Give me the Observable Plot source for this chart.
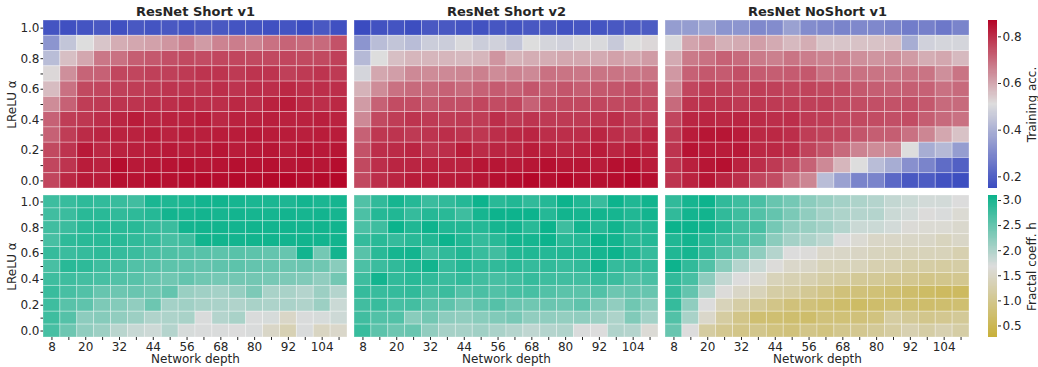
<!DOCTYPE html>
<html>
<head>
<meta charset="utf-8">
<script src="https://cdn.jsdelivr.net/npm/d3@7"></script>
<script src="https://cdn.jsdelivr.net/npm/@observablehq/plot@0.6"></script>
<style>
  body { margin: 0; background: #fff; }
  #fig { position: relative; width: 1038px; height: 367px; font-family: "DejaVu Sans", sans-serif; color: #262626; }
  #fig > svg { position: absolute; overflow: visible; }
</style>
</head>
<body>
<div id="fig"></div>
<script>
// Grid axes: network depth (columns) and LReLU slope α (rows, listed top to bottom)
const depths = [8, 14, 20, 26, 32, 38, 44, 50, 56, 62, 68, 74, 80, 86, 92, 98, 104, 110];
const alphas = [1.0, 0.9, 0.8, 0.7, 0.6, 0.5, 0.4, 0.3, 0.2, 0.1, 0.0];
const panelTitles = ["ResNet Short v1", "ResNet Short v2", "ResNet NoShort v1"];
const accTicks = [0.2, 0.4, 0.6, 0.8];
const fractalTicks = [0.5, 1.0, 1.5, 2.0, 2.5, 3.0];

// Training accuracy, one row per α (1.0 first)
const accShortV1 = [
  [0.17,0.16,0.17,0.18,0.16,0.18,0.17,0.18,0.17,0.18,0.18,0.17,0.17,0.16,0.17,0.15,0.18,0.16],
  [0.33,0.45,0.51,0.55,0.59,0.60,0.61,0.63,0.66,0.62,0.66,0.67,0.66,0.69,0.71,0.70,0.70,0.74],
  [0.43,0.56,0.60,0.68,0.69,0.72,0.73,0.745,0.755,0.75,0.76,0.76,0.755,0.755,0.76,0.755,0.755,0.77],
  [0.52,0.64,0.71,0.715,0.76,0.76,0.77,0.77,0.78,0.79,0.79,0.78,0.79,0.79,0.77,0.78,0.79,0.78],
  [0.565,0.69,0.755,0.76,0.77,0.775,0.78,0.79,0.79,0.79,0.80,0.79,0.80,0.80,0.81,0.80,0.80,0.80],
  [0.645,0.715,0.775,0.78,0.79,0.79,0.80,0.80,0.81,0.80,0.80,0.81,0.80,0.82,0.83,0.81,0.80,0.81],
  [0.715,0.775,0.785,0.80,0.815,0.83,0.815,0.82,0.82,0.83,0.81,0.82,0.82,0.825,0.82,0.82,0.825,0.82],
  [0.715,0.775,0.805,0.815,0.82,0.82,0.83,0.82,0.83,0.825,0.83,0.83,0.835,0.83,0.83,0.825,0.83,0.83],
  [0.755,0.79,0.835,0.81,0.82,0.825,0.83,0.835,0.83,0.835,0.84,0.83,0.835,0.84,0.83,0.845,0.835,0.84],
  [0.76,0.79,0.83,0.82,0.855,0.835,0.84,0.845,0.85,0.84,0.845,0.85,0.845,0.85,0.84,0.845,0.84,0.855],
  [0.76,0.81,0.835,0.83,0.85,0.845,0.855,0.85,0.855,0.86,0.855,0.86,0.855,0.86,0.865,0.855,0.86,0.865]
];
const accShortV2 = [
  [0.15,0.165,0.17,0.155,0.18,0.18,0.17,0.165,0.175,0.17,0.18,0.18,0.165,0.175,0.17,0.18,0.185,0.19],
  [0.33,0.43,0.45,0.43,0.47,0.47,0.50,0.47,0.48,0.45,0.51,0.49,0.48,0.50,0.50,0.46,0.51,0.52],
  [0.42,0.51,0.56,0.575,0.575,0.575,0.57,0.575,0.63,0.58,0.59,0.59,0.60,0.60,0.595,0.61,0.60,0.62],
  [0.49,0.60,0.615,0.65,0.645,0.65,0.655,0.665,0.645,0.66,0.65,0.69,0.685,0.68,0.685,0.685,0.68,0.685],
  [0.58,0.645,0.69,0.70,0.70,0.715,0.70,0.715,0.725,0.715,0.735,0.72,0.735,0.72,0.73,0.735,0.745,0.735],
  [0.62,0.715,0.75,0.75,0.73,0.745,0.745,0.76,0.75,0.76,0.715,0.75,0.755,0.755,0.76,0.755,0.76,0.76],
  [0.65,0.755,0.775,0.79,0.78,0.775,0.78,0.775,0.80,0.78,0.79,0.78,0.78,0.78,0.785,0.80,0.78,0.78],
  [0.715,0.785,0.79,0.78,0.79,0.80,0.79,0.785,0.80,0.81,0.815,0.80,0.80,0.80,0.815,0.80,0.79,0.815],
  [0.74,0.80,0.805,0.815,0.79,0.80,0.83,0.805,0.815,0.815,0.83,0.82,0.815,0.82,0.83,0.815,0.83,0.82],
  [0.755,0.80,0.815,0.815,0.82,0.82,0.82,0.84,0.84,0.835,0.84,0.85,0.84,0.84,0.83,0.85,0.85,0.83],
  [0.755,0.80,0.815,0.83,0.83,0.83,0.835,0.84,0.85,0.855,0.865,0.85,0.865,0.85,0.85,0.855,0.865,0.85]
];
const accNoShortV1 = [
  [0.35,0.35,0.37,0.33,0.33,0.30,0.31,0.36,0.31,0.30,0.29,0.30,0.30,0.29,0.27,0.28,0.26,0.29],
  [0.50,0.605,0.625,0.585,0.595,0.615,0.595,0.57,0.59,0.55,0.55,0.555,0.555,0.56,0.39,0.48,0.49,0.49],
  [0.595,0.675,0.69,0.715,0.70,0.675,0.665,0.685,0.67,0.66,0.665,0.64,0.63,0.64,0.62,0.59,0.60,0.57],
  [0.625,0.715,0.73,0.725,0.745,0.725,0.72,0.725,0.73,0.69,0.695,0.69,0.685,0.68,0.69,0.685,0.64,0.685],
  [0.655,0.76,0.775,0.77,0.765,0.775,0.77,0.76,0.765,0.755,0.75,0.73,0.72,0.715,0.72,0.715,0.69,0.70],
  [0.70,0.79,0.795,0.79,0.78,0.785,0.78,0.775,0.77,0.77,0.755,0.75,0.745,0.74,0.745,0.73,0.70,0.70],
  [0.76,0.815,0.815,0.81,0.815,0.805,0.80,0.80,0.78,0.775,0.76,0.755,0.75,0.745,0.75,0.72,0.70,0.69],
  [0.78,0.83,0.84,0.84,0.83,0.81,0.81,0.80,0.775,0.765,0.76,0.735,0.72,0.72,0.69,0.655,0.60,0.555],
  [0.79,0.845,0.835,0.83,0.835,0.81,0.81,0.80,0.765,0.74,0.70,0.66,0.645,0.65,0.51,0.39,0.42,0.35],
  [0.79,0.825,0.84,0.85,0.82,0.80,0.78,0.75,0.715,0.65,0.575,0.51,0.43,0.39,0.32,0.29,0.23,0.20],
  [0.79,0.82,0.84,0.815,0.80,0.76,0.75,0.69,0.655,0.43,0.36,0.29,0.29,0.22,0.18,0.19,0.165,0.155]
];

// Fractal coefficient h, one row per α (1.0 first)
const fracShortV1 = [
  [2.76,2.80,2.87,2.84,2.80,2.74,3.00,2.97,3.00,3.05,3.06,3.03,3.00,3.00,2.98,3.05,3.00,3.03],
  [2.74,2.78,2.90,2.90,2.85,2.87,2.93,3.05,3.03,3.05,3.03,3.05,3.03,3.03,3.05,3.03,3.05,3.03],
  [2.74,2.78,2.90,2.93,2.90,2.90,2.82,2.78,3.05,3.06,3.06,3.05,3.06,3.05,3.06,3.05,3.06,3.06],
  [2.70,2.87,2.90,2.90,2.90,2.85,2.82,2.70,2.76,3.06,3.06,3.05,3.06,3.06,3.05,3.06,3.05,3.06],
  [2.82,2.78,2.82,2.87,2.82,2.78,2.70,2.65,2.62,2.58,2.55,2.58,2.55,2.50,2.48,3.05,2.39,3.05],
  [2.69,2.90,2.87,2.76,2.72,2.62,2.60,2.55,2.53,2.50,2.53,2.55,2.50,2.48,2.44,2.46,2.42,2.25],
  [2.76,2.76,2.72,2.70,2.62,2.58,2.48,2.42,2.50,2.42,2.38,2.40,2.40,2.37,2.33,2.30,2.19,2.40],
  [2.79,2.70,2.62,2.48,2.44,2.46,2.42,2.50,2.14,2.09,2.06,2.16,2.33,2.03,2.03,1.95,2.12,1.95],
  [2.76,2.58,2.53,2.33,2.28,2.19,2.44,2.06,2.09,2.03,2.02,1.98,2.03,2.00,2.02,1.98,2.12,1.80],
  [2.76,2.60,2.22,2.27,2.19,2.12,1.98,2.00,2.03,1.70,1.95,2.03,1.70,1.72,1.50,1.70,1.72,1.78],
  [2.70,2.44,2.20,2.12,1.92,1.82,1.78,1.95,1.72,1.70,1.70,1.68,1.70,1.50,1.33,1.70,1.45,1.52]
];
const fracShortV2 = [
  [2.63,2.85,3.03,2.93,2.78,2.85,2.93,3.09,2.90,2.95,2.85,2.93,3.10,2.96,2.80,3.09,2.96,3.06],
  [2.66,2.93,2.96,2.82,2.93,2.90,2.76,3.03,3.09,3.09,3.09,2.93,3.06,3.03,3.06,3.03,2.96,3.05],
  [2.66,2.76,3.10,2.96,3.09,2.96,2.95,2.93,3.03,3.05,2.90,3.10,2.76,3.05,2.93,3.06,2.93,2.96],
  [2.82,2.90,2.82,2.90,2.95,3.09,2.96,2.82,2.90,3.05,3.03,3.09,2.90,2.93,3.10,3.05,2.90,2.93],
  [2.58,2.90,3.03,3.05,2.76,2.85,2.95,2.80,2.74,2.96,2.96,2.93,2.95,2.96,3.03,3.09,2.95,2.82],
  [2.66,2.78,2.85,2.95,3.06,2.82,2.93,2.85,2.85,2.90,2.82,2.85,2.80,2.85,3.05,2.82,2.85,2.85],
  [2.76,3.05,2.85,2.90,2.85,2.78,2.85,2.74,2.70,2.74,2.82,2.76,2.74,2.74,2.82,2.78,2.62,2.68],
  [2.82,2.80,2.82,2.85,2.72,2.78,2.62,2.68,2.62,2.70,2.70,2.62,2.56,2.56,2.62,2.44,2.50,2.48],
  [2.74,2.80,2.70,2.72,2.58,2.53,2.40,2.53,2.60,2.46,2.42,2.46,2.44,2.53,2.33,2.19,2.42,2.25],
  [2.74,2.62,2.62,2.25,2.40,2.22,2.19,2.25,2.30,2.36,2.19,2.20,2.17,2.20,2.12,2.00,2.30,2.06],
  [2.80,2.55,2.44,2.47,2.19,2.05,2.05,2.09,2.02,1.95,1.88,1.95,1.98,1.70,1.68,1.98,1.95,1.62]
];
const fracNoShortV1 = [
  [2.85,3.03,3.09,2.85,2.76,2.68,2.47,2.38,2.23,2.14,2.06,2.00,1.95,1.85,1.80,1.75,1.75,1.68],
  [2.85,3.05,3.06,2.85,2.76,2.62,2.50,2.34,2.20,2.06,2.00,1.95,1.95,1.80,1.75,1.66,1.70,1.60],
  [3.10,3.09,3.05,2.90,2.72,2.69,2.38,2.20,2.14,2.06,1.95,1.80,1.80,1.75,1.63,1.60,1.60,1.55],
  [2.96,3.05,2.90,2.78,2.70,2.55,2.23,2.06,2.00,1.90,1.68,1.60,1.50,1.50,1.50,1.50,1.42,1.50],
  [2.96,3.03,2.85,2.62,2.47,2.20,1.95,1.68,1.65,1.52,1.50,1.47,1.42,1.38,1.38,1.38,1.38,1.30],
  [3.09,2.85,2.62,2.25,1.95,1.80,1.65,1.52,1.50,1.38,1.38,1.38,1.30,1.30,1.20,1.20,1.17,1.20],
  [2.85,2.70,2.22,1.85,1.68,1.60,1.38,1.32,1.30,1.20,1.17,1.08,1.08,1.02,1.02,0.95,0.98,1.02],
  [2.82,2.50,2.00,1.65,1.50,1.38,1.20,1.17,1.05,0.95,0.83,0.83,0.80,0.75,0.70,0.64,0.60,0.60],
  [2.82,2.20,1.68,1.38,1.20,1.08,0.95,0.83,0.83,0.75,0.70,0.64,0.70,0.75,0.72,0.70,0.72,0.75],
  [2.62,2.03,1.52,1.17,0.95,0.75,0.75,0.72,0.70,0.83,0.80,0.83,0.87,1.17,1.08,0.98,1.02,1.08],
  [2.47,1.68,1.17,1.02,0.95,0.98,0.87,0.83,0.95,0.87,0.98,1.02,1.08,1.17,1.30,1.20,1.30,1.20]
];

// Diverging colour scales (blue–grey–red, gold–grey–teal)
const accColor = {type: "linear", domain: [0.15, 0.51, 0.87], range: ["#3b4cc0", "#dddddd", "#b40426"], interpolate: "rgb", clamp: true};
const fracColor = {type: "linear", domain: [0.27, 1.68, 3.10], range: ["#c8b03a", "#dcdcdc", "#0cb38c"], interpolate: "rgb", clamp: true};

const fig = document.getElementById("fig");
const baseStyle = {fontFamily: "DejaVu Sans, sans-serif", fontSize: "12px", color: "#262626", background: "transparent", overflow: "visible"};
const panelW = 304;
const panelLefts = [43, 354, 665];
const fontSize = 12;
const centred = {textAnchor: "middle", lineAnchor: "middle"};

function place(svg, left, top) {
  svg.style.left = left + "px";
  svg.style.top = top + "px";
  fig.appendChild(svg);
}

function heatmap({values, color, title, col, frameTop, frameH, showX}) {
  const cells = [];
  alphas.forEach((a, i) => depths.forEach((d, j) => cells.push({alpha: a, depth: d, v: values[i][j]})));
  const showY = col === 0;
  const mL = showY ? 43 : 0;
  const mT = title ? 20 : 0;
  const mB = showX ? 30 : 0;
  const x = {type: "band", domain: depths, padding: 0, round: false};
  const y = {type: "band", domain: alphas, padding: 0, round: false};
  if (!showX) x.axis = null;
  if (!showY) y.axis = null;
  const chart = Plot.plot({
    width: mL + panelW,
    height: mT + frameH + mB,
    marginLeft: mL, marginRight: 0, marginTop: mT, marginBottom: mB,
    style: baseStyle,
    x, y,
    color,
    marks: [
      Plot.cell(cells, {x: "depth", y: "alpha", fill: "v", inset: 0, stroke: "white", strokeOpacity: 0.4, strokeWidth: 0.8}),
      showX ? Plot.axisX({tickSize: 3, tickPadding: 1.5, fontSize, label: null,
                          tickFormat: (d, i) => (i % 2 ? "" : String(d))}) : null,
      showY ? Plot.axisY({tickSize: 2.5, tickPadding: 1.5, fontSize, label: null,
                          tickFormat: (d, i) => (i % 2 ? "" : d.toFixed(1))}) : null,
      title ? Plot.text([title], {frameAnchor: "top", dy: -9, fontWeight: "bold", fontSize: 13, ...centred}) : null,
      showY ? Plot.text(["LReLU α"], {frameAnchor: "left", dx: -31, rotate: -90, fontSize, ...centred}) : null,
      showX ? Plot.text(["Network depth"], {frameAnchor: "bottom", dy: 22, fontSize, ...centred}) : null
    ]
  });
  place(chart, panelLefts[col] - mL, frameTop - mT);
}

function colorbar({color, ticks, label, frameTop, frameH}) {
  const lo = color.domain[0], hi = color.domain[color.domain.length - 1];
  const n = 160;
  const slices = d3.range(n).map(i => ({y1: lo + (hi - lo) * i / n, y2: lo + (hi - lo) * (i + 1) / n}));
  const chart = Plot.plot({
    width: 50, height: frameH + 20,
    marginLeft: 0, marginRight: 41, marginTop: 10, marginBottom: 10,
    style: baseStyle,
    x: {axis: null},
    y: {domain: [lo, hi]},
    color,
    marks: [
      Plot.rectY(slices, {y1: "y1", y2: "y2", fill: d => (d.y1 + d.y2) / 2, shapeRendering: "crispEdges"}),
      Plot.axisY({anchor: "right", ticks, tickSize: 3, tickPadding: 2, fontSize, label: null, tickFormat: ".1f"}),
      Plot.text([label], {frameAnchor: "right", dx: 35, rotate: -90, fontSize, ...centred})
    ]
  });
  place(chart, 988, frameTop - 10);
}

const accRows = [accShortV1, accShortV2, accNoShortV1];
const fracRows = [fracShortV1, fracShortV2, fracNoShortV1];
accRows.forEach((values, col) => heatmap({values, color: accColor, title: panelTitles[col], col, frameTop: 20, frameH: 168, showX: false}));
fracRows.forEach((values, col) => heatmap({values, color: fracColor, title: null, col, frameTop: 195, frameH: 142, showX: true}));

colorbar({color: accColor, ticks: accTicks, label: "Training acc.", frameTop: 20, frameH: 168});
colorbar({color: fracColor, ticks: fractalTicks, label: "Fractal coeff. h", frameTop: 195, frameH: 142});
</script>
</body>
</html>
